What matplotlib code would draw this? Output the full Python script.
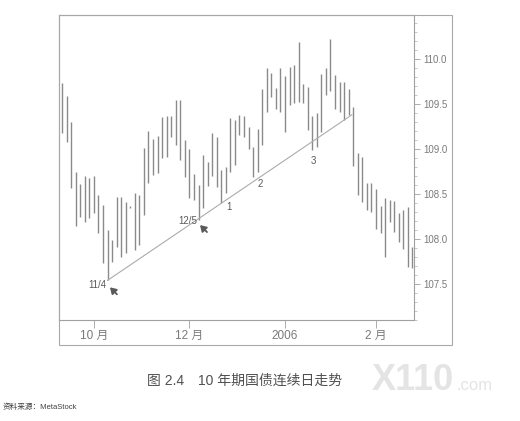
import matplotlib
matplotlib.use('Agg')
import matplotlib.pyplot as plt
from matplotlib.patches import Rectangle
from matplotlib.ticker import MultipleLocator, FormatStrFormatter, NullLocator
from matplotlib.transforms import offset_copy
import numpy as np

plt.rcParams['font.family'] = ['Liberation Sans', 'Noto Sans CJK SC', 'DejaVu Sans']

# Daily bar highs / lows (price)
highs = [109.73, 109.59, 109.30, 108.74, 108.61, 108.70, 108.68, 108.70, 108.49, 108.38,
         108.10, 107.99, 108.47, 108.47, 108.41, 108.37, 108.51, 108.49, 109.01, 109.20,
         109.11, 109.14, 109.36, 109.37, 109.37, 109.54, 109.54, 109.10, 109.00, 108.72,
         108.60, 108.93, 108.86, 109.18, 109.13, 108.77, 108.80, 109.34, 109.32, 109.38,
         109.37, 109.24, 109.02, 109.22, 109.67, 109.90, 109.84, 109.68, 109.90, 109.81,
         109.91, 109.93, 110.19, 109.72, 109.69, 109.37, 109.40, 109.83, 109.90, 110.22,
         109.82, 109.74, 109.74, 109.67, 109.47, 108.96, 108.91, 108.62, 108.62, 108.56,
         108.37, 108.46, 108.43, 108.42, 108.29, 108.32, 108.36, 107.91]
lows = [109.18, 109.08, 108.57, 108.14, 108.24, 108.19, 108.23, 108.29, 108.07, 107.73,
        107.54, 107.74, 107.91, 107.80, 107.84, 108.34, 107.88, 107.93, 108.27, 108.62,
        108.71, 108.73, 108.90, 108.91, 109.13, 109.04, 108.88, 108.69, 108.46, 108.43,
        108.21, 108.34, 108.59, 108.70, 108.58, 108.40, 108.51, 108.74, 108.82, 109.16,
        109.13, 109.00, 108.69, 108.74, 109.04, 109.41, 109.58, 109.44, 109.41, 109.19,
        109.49, 109.51, 109.52, 109.51, 109.21, 108.99, 109.02, 109.19, 109.60, 109.64,
        109.44, 109.41, 109.32, 109.38, 108.81, 108.49, 108.41, 108.32, 108.30, 108.11,
        108.07, 107.80, 108.19, 108.08, 107.97, 107.89, 107.69, 107.68]

month_ticks = [7.0, 27.9, 49.0, 69.0]
month_labels = ['10 月', '12 月', '2006', '2 月']

trend_x = [10, 63.7]
trend_y = [107.54, 109.38]

marker_bars = [10, 30, 35, 42, 55]
marker_labels = ['11/4', '12/5', '1', '2', '3']

caption = '图 2.4　10 年期国债连续日走势'
source = '资料来源：MetaStock'

W, H = 520, 421
fig = plt.figure(figsize=(W / 100, H / 100), dpi=100)
ax = fig.add_axes([59 / W, 1 - 320 / H, (414 - 59) / W, (320 - 15) / H])

x = np.arange(len(highs))
ax.vlines(x, lows, highs, color='#8a8a8a', lw=1.0)
ax.plot(trend_x, trend_y, color='#ababab', lw=0.8)

ax.set_xlim(-0.66, 77.36)
ax.set_ylim(107.1, 110.489)

for s in ax.spines.values():
    s.set_color('#a0a0a0')
    s.set_linewidth(0.8)

ax.yaxis.tick_right()
ax.yaxis.set_major_locator(MultipleLocator(0.5))
ax.yaxis.set_minor_locator(MultipleLocator(0.1))
ax.yaxis.set_major_formatter(FormatStrFormatter('%.1f'))
ax.tick_params(axis='y', which='major', length=4.5, width=0.6, color='#a0a0a0',
               labelsize=7, labelcolor='#7a7a7a', pad=2)
ax.tick_params(axis='y', which='minor', length=2.5, width=0.5, color='#b0b0b0')

ax.set_xticks(month_ticks, month_labels)
ax.xaxis.set_minor_locator(NullLocator())
ax.tick_params(axis='x', which='major', length=5.5, width=0.6, color='#a0a0a0',
               labelsize=8.5, labelcolor='#7a7a7a', pad=2)

# outer frame
fig.add_artist(Rectangle((59 / W, 1 - 345 / H), (452 - 59) / W, (345 - 15) / H,
                         transform=fig.transFigure, fill=False, ec='#a8a8a8', lw=0.8))

# markers
text_offsets = [(-1.1, -3.6, 'right'), (-1.1, -0.7, 'right'), (5.8, -2.9, 'center'),
                (5.0, -5.0, 'center'), (0.7, -7.9, 'center')]
for b, lab, (dx, dy, ha) in zip(marker_bars, marker_labels, text_offsets):
    ax.annotate(lab, xy=(b, lows[b]), xytext=(dx, dy), textcoords='offset points',
                ha=ha, va='center', fontsize=7, color='#5a5a5a')

arrow_heads = [(1.8, -5.0), (1.1, -3.6)]
for b, (hx, hy) in zip(marker_bars[:2], arrow_heads):
    tr = offset_copy(ax.transData, fig=fig, x=hx, y=hy, units='points')
    ax.annotate('', xy=(b, lows[b]), xycoords=tr, xytext=(5.0, -5.0),
                textcoords='offset points',
                arrowprops=dict(arrowstyle='-|>,head_length=0.35,head_width=0.22',
                                lw=1.3, color='#5a5a5a', shrinkA=0, shrinkB=0,
                                mutation_scale=10))

# caption, watermark, source
fig.text(147 / W, 1 - 381 / H, caption, fontsize=10, color='#505050',
         ha='left', va='center')
fig.text(372 / W, 1 - 380 / H, 'X110', fontsize=26, fontweight='bold',
         color='#e4e4e4', ha='left', va='center')
fig.text(456 / W, 1 - 385 / H, '.com', fontsize=12, color='#e4e4e4',
         ha='left', va='center')
fig.text(3 / W, 1 - 407 / H, source, fontsize=5.5, color='#404040',
         ha='left', va='center')

fig.savefig('out.png', dpi=100)
